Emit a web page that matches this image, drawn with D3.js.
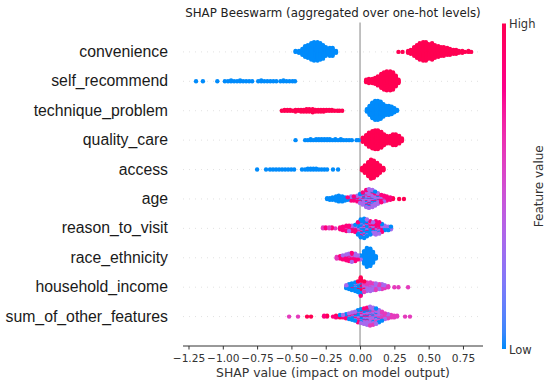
<!DOCTYPE html>
<html>
<head>
<meta charset="utf-8">
<script src="https://cdn.jsdelivr.net/npm/d3@7"></script>
<style>
  html, body { margin: 0; padding: 0; background: #fff; }
  svg { display: block; }
</style>
</head>
<body>
<svg id="chart" width="550" height="386"></svg>
<script>
// ---------------- DATA ----------------
const titleText = "SHAP Beeswarm (aggregated over one-hot levels)";
const xLabelText = "SHAP value (impact on model output)";
const features = ["convenience", "self_recommend", "technique_problem", "quality_care", "access",
  "age", "reason_to_visit", "race_ethnicity", "household_income", "sum_of_other_features"];
const xTicks = [-1.25, -1.00, -0.75, -0.50, -0.25, 0.00, 0.25, 0.50, 0.75];

// feature-value levels (0 = Low, 1 = High)
const B = 0, P = 0.33, M = 0.6, K = 0.85, R = 1;

// each entry: [SHAP value, number of samples, feature value]
const convenience = [
  [-0.47,2,B],[-0.445,3,B],[-0.42,7,B],[-0.40,12,B],[-0.38,14,B],[-0.355,18,B],[-0.335,20,B],[-0.31,20,B],
  [-0.29,18,B],[-0.27,15,B],[-0.25,10,B],[-0.235,6,B],[-0.22,9,B],[-0.20,9,B],[-0.175,3,B],
  [0.28,1,R],[0.31,1,R],[0.35,3,R],[0.37,5,R],[0.395,10,R],[0.415,14,R],[0.435,18,R],[0.46,20,R],[0.48,20,R],
  [0.50,16,R],[0.525,18,R],[0.545,14,R],[0.57,12,R],[0.59,10,R],[0.61,10,R],[0.635,8,R],[0.655,7,R],[0.68,5,R],
  [0.70,5,R],[0.72,3,R],[0.745,3,R],[0.765,1,R],[0.79,2,R],[0.81,1,R]
];
const self_recommend = [
  [-1.195,1,B],[-1.145,1,B],[-1.04,1,B],
  [-0.985,1,B],[-0.962,1,B],[-0.94,2,B],[-0.918,1,B],[-0.896,1,B],[-0.874,2,B],[-0.852,1,B],[-0.83,1,B],[-0.808,1,B],[-0.786,1,B],
  [-0.742,1,B],[-0.72,2,B],[-0.698,1,B],[-0.676,1,B],[-0.654,1,B],[-0.632,1,B],[-0.61,1,B],
  [-0.58,1,B],[-0.558,2,B],[-0.536,1,B],[-0.514,1,B],[-0.492,1,B],[-0.474,1,B],
  [0.045,4,R],[0.065,6,R],[0.09,6,R],[0.11,8,R],[0.13,12,R],[0.155,18,R],[0.175,22,R],[0.195,24,R],
  [0.22,24,R],[0.24,22,R],[0.26,14,R],[0.28,5,R]
];
const technique_problem = [
  [-0.57,1,R],[-0.55,2,R],[-0.53,2,R],[-0.51,2,R],[-0.49,1,R],[-0.47,3,R],[-0.45,2,R],[-0.43,3,R],[-0.41,3,R],
  [-0.39,4,R],[-0.37,4,R],[-0.345,5,R],[-0.325,3,R],[-0.305,3,R],[-0.285,3,R],[-0.265,3,R],[-0.245,2,R],
  [-0.225,2,R],[-0.205,2,R],[-0.185,1,R],[-0.165,1,R],[-0.15,1,R],[-0.13,1,R],
  [0.05,4,B],[0.07,12,B],[0.09,20,B],[0.11,24,B],[0.13,24,B],[0.15,22,B],[0.17,16,B],[0.19,12,B],[0.21,12,B],
  [0.23,10,B],[0.25,6,B],[0.27,2,B]
];
const quality_care = [
  [-0.47,1,B],[-0.40,1,B],[-0.38,1,B],[-0.36,2,B],[-0.34,1,B],[-0.32,2,B],[-0.30,2,B],[-0.28,2,B],[-0.26,2,B],
  [-0.24,2,B],[-0.22,2,B],[-0.20,1,B],[-0.18,2,B],[-0.16,1,B],[-0.14,2,B],[-0.12,1,B],[-0.10,1,B],[-0.08,1,B],
  [-0.06,1,B],[-0.025,1,B],[-0.01,1,B],
  [0.02,6,R],[0.045,12,R],[0.065,18,R],[0.09,22,R],[0.11,24,R],[0.13,24,R],[0.155,20,R],[0.175,14,R],
  [0.195,10,R],[0.22,10,R],[0.24,14,R],[0.26,14,R],[0.285,10,R],[0.305,4,R]
];
const access = [
  [-0.75,1,B],[-0.685,1,B],[-0.656,1,B],[-0.634,1,B],[-0.612,1,B],[-0.59,1,B],[-0.568,1,B],[-0.546,1,B],
  [-0.524,1,B],[-0.502,1,B],[-0.48,1,B],
  [-0.423,1,B],[-0.40,1,B],[-0.38,2,B],[-0.36,2,B],[-0.34,2,B],[-0.32,2,B],[-0.30,1,B],[-0.28,1,B],
  [-0.26,1,B],[-0.24,1,B],[-0.197,1,B],[-0.16,1,B],
  [0.015,4,R],[0.035,10,R],[0.06,18,R],[0.08,24,R],[0.10,22,R],[0.125,16,R],[0.145,10,R],[0.17,4,R]
];
const age = [
  [-0.24,2,B],[-0.22,3,B],[-0.20,4,B],[-0.175,6,B],[-0.155,8,B],[-0.13,7,B],[-0.11,4,B],[-0.11,1,K],
  [-0.09,3,K],[-0.09,1,B],[-0.065,4,K],[-0.065,2,P],[-0.045,4,K],[-0.045,2,B],[-0.02,4,K],[-0.02,3,P],[-0.02,1,B],
  [0,7,P],[0,3,K],[0,2,B],[0.02,10,P],[0.02,3,K],[0.02,3,B],[0.045,14,P],[0.045,4,K],[0.045,4,B],
  [0.065,16,P],[0.065,4,K],[0.065,4,B],[0.09,14,P],[0.09,4,K],[0.09,4,B],[0.11,11,P],[0.11,4,K],[0.11,3,B],
  [0.13,8,P],[0.13,4,K],[0.13,2,B],[0.155,6,K],[0.155,4,P],[0.175,6,K],[0.175,2,P],[0.195,5,K],[0.195,1,R],
  [0.22,3,K],[0.22,1,R],[0.24,2,R],[0.285,1,R],[0.32,1,R]
];
const reason_to_visit = [
  [-0.27,2,M],[-0.25,2,K],[-0.225,2,M],[-0.205,2,K],[-0.18,1,M],[-0.145,3,K],[-0.125,4,K],[-0.125,1,P],
  [-0.10,5,K],[-0.10,2,M],[-0.08,5,K],[-0.08,2,P],[-0.06,4,K],[-0.06,2,P],[-0.06,1,B],
  [-0.035,4,K],[-0.035,3,P],[-0.035,2,B],[-0.015,8,B],[-0.015,4,P],[-0.015,3,K],
  [0.005,12,B],[0.005,6,P],[0.005,3,K],[0.03,14,B],[0.03,6,P],[0.03,3,K],[0.05,12,B],[0.05,5,P],[0.05,3,K],
  [0.075,8,B],[0.075,4,P],[0.075,4,K],[0.095,6,K],[0.095,6,P],[0.095,2,B],[0.115,8,K],[0.115,6,P],[0.115,2,B],
  [0.14,7,K],[0.14,5,P],[0.14,2,B],[0.16,5,K],[0.16,4,P],[0.16,1,B],[0.18,3,P],[0.18,3,B],
  [0.205,3,B],[0.205,2,P],[0.225,2,B],[0.225,2,P]
];
const race_ethnicity = [
  [-0.17,3,M],[-0.145,4,K],[-0.125,5,K],[-0.125,1,P],[-0.10,6,K],[-0.10,2,P],[-0.08,7,K],[-0.08,3,P],
  [-0.06,8,K],[-0.06,3,P],[-0.06,1,M],[-0.035,6,K],[-0.035,4,P],[-0.015,4,P],[-0.015,2,K],
  [0.005,2,P],[0.005,4,B],[0.03,16,B],[0.05,24,B],[0.075,22,B],[0.095,14,B],[0.115,4,B]
];
const household_income = [
  [-0.10,2,B],[-0.10,2,P],[-0.08,5,B],[-0.08,1,P],[-0.06,6,B],[-0.06,2,K],[-0.035,8,B],[-0.035,2,P],
  [-0.015,8,B],[-0.015,2,R],[-0.015,2,P],[0.005,10,R],[0.005,6,B],[0.005,4,K],
  [0.03,6,M],[0.03,4,P],[0.03,2,R],[0.05,6,P],[0.05,4,M],[0.075,6,P],[0.075,4,M],[0.095,6,P],[0.095,2,M],
  [0.115,5,P],[0.115,3,M],[0.14,4,P],[0.14,2,M],[0.16,4,P],[0.16,2,M],[0.18,3,P],[0.18,1,M],
  [0.205,2,M],[0.25,1,M],[0.28,1,M],[0.35,1,M]
];
const sum_of_other_features = [
  [-0.517,1,M],[-0.452,1,M],[-0.386,1,R],[-0.357,1,R],[-0.262,2,K],[-0.24,1,R],[-0.24,1,K],[-0.197,1,K],
  [-0.175,2,R],[-0.175,1,K],[-0.146,2,B],[-0.146,1,R],[-0.146,1,K],[-0.124,2,K],[-0.124,1,P],[-0.124,1,B],
  [-0.102,3,B],[-0.102,2,K],[-0.102,1,P],[-0.08,3,P],[-0.08,3,B],[-0.08,2,K],
  [-0.058,4,B],[-0.058,3,P],[-0.058,3,K],[-0.036,5,B],[-0.036,4,P],[-0.036,3,K],
  [-0.015,6,B],[-0.015,6,P],[-0.015,4,K],[0.007,6,B],[0.007,8,P],[0.007,4,K],
  [0.029,10,P],[0.029,6,B],[0.029,4,K],[0.051,12,P],[0.051,5,B],[0.051,5,K],
  [0.073,14,P],[0.073,6,M],[0.073,4,B],[0.095,12,P],[0.095,6,M],[0.095,4,B],
  [0.117,12,P],[0.117,5,M],[0.117,3,B],[0.138,10,P],[0.138,4,M],[0.138,2,B],
  [0.16,8,M],[0.16,3,P],[0.16,1,B],[0.182,6,M],[0.182,2,P],[0.204,4,M],[0.204,2,P],
  [0.226,3,M],[0.226,1,P],[0.248,3,M],[0.27,2,M],[0.328,1,M],[0.364,1,M]
];
const rowData = [convenience, self_recommend, technique_problem, quality_care, access,
  age, reason_to_visit, race_ethnicity, household_income, sum_of_other_features];

// ---------------- CHART ----------------
const svg = d3.select("#chart");
const W = 550, H = 386;
svg.append("rect").attr("width", W).attr("height", H).attr("fill", "#fff");

const plot = { left: 183, right: 483, top: 22.5, bottom: 346 };
const nRows = features.length;

const x = d3.scaleLinear().domain([-1.29, 0.896]).range([plot.left, plot.right]);
const y = d3.scaleLinear().domain([-1, nRows]).range([plot.bottom, plot.top]);

const cLow = d3.rgb("#008bfb"), cHigh = d3.rgb("#ff0052");
const colorInterp = d3.interpolateHcl(cLow, cHigh);
const color = d3.scaleSequential(colorInterp).domain([0, 1]);

// gridlines
features.forEach((f, i) => {
  const pos = nRows - 1 - i;
  svg.append("line")
    .attr("x1", plot.left).attr("x2", plot.right)
    .attr("y1", y(pos)).attr("y2", y(pos))
    .attr("stroke", "#cccccc").attr("stroke-width", 0.6)
    .attr("stroke-dasharray", "1,5");
});

// zero line
svg.append("line")
  .attr("x1", x(0)).attr("x2", x(0))
  .attr("y1", plot.top).attr("y2", plot.bottom)
  .attr("stroke", "#999999").attr("stroke-width", 1.2);

// beeswarm layout (SHAP style binning)
const frac = v => v - Math.floor(v);
const rowHeight = 0.4;
features.forEach((f, i) => {
  const pos = nRows - 1 - i;
  const pts = [];
  rowData[i].forEach(([v, n, fv]) => {
    for (let k = 0; k < n; k++) pts.push({ v, fv });
  });
  pts.forEach((p, j) => { p.key = frac((j + 1) * 0.6180339887 + i * 0.137); });
  const mn = d3.min(pts, p => p.v), mx = d3.max(pts, p => p.v);
  pts.forEach(p => { p.q = Math.round(100 * (p.v - mn) / (mx - mn + 1e-8)); });
  const sorted = pts.slice().sort((a, b) => a.q - b.q || a.key - b.key);
  let layer = 0, last = -1;
  sorted.forEach(p => {
    if (p.q !== last) layer = 0;
    p.ys = Math.ceil(layer / 2) * ((layer % 2) * 2 - 1);
    layer++;
    last = p.q;
  });
  const m = d3.max(pts, p => p.ys + 1);
  pts.forEach(p => { p.dy = p.ys * 0.9 * (rowHeight / m); });
  const drawOrder = pts.slice().sort((a, b) => a.key - b.key);
  svg.append("g").selectAll("circle").data(drawOrder).join("circle")
    .attr("cx", d => x(d.v))
    .attr("cy", d => y(pos + d.dy))
    .attr("r", 2.2)
    .attr("fill", d => color(d.fv));
});

// feature labels
features.forEach((f, i) => {
  const pos = nRows - 1 - i;
  svg.append("text")
    .attr("x", 168).attr("y", y(pos) + 5)
    .attr("text-anchor", "end")
    .attr("font-family", "'Liberation Sans', Arial, sans-serif")
    .attr("font-size", 15.8)
    .attr("fill", "#1a1a1a")
    .text(f);
});

// x axis
const xAxis = d3.axisBottom(x).tickValues(xTicks).tickFormat(d3.format(".2f")).tickSize(3.5).tickSizeOuter(0);
const gx = svg.append("g").attr("transform", `translate(0,${plot.bottom})`).call(xAxis);
gx.select(".domain").attr("stroke", "#333").attr("stroke-width", 1).attr("d", `M${plot.left},0H${plot.right}`);
gx.selectAll(".tick line").attr("stroke", "#333");
gx.selectAll(".tick text")
  .attr("font-family", "'DejaVu Sans', sans-serif")
  .attr("font-size", 10.6)
  .attr("fill", "#333")
  .attr("dy", null).attr("y", 16);

svg.append("text")
  .attr("x", (plot.left + plot.right) / 2).attr("y", 377)
  .attr("text-anchor", "middle")
  .attr("font-family", "'DejaVu Sans', sans-serif")
  .attr("font-size", 12.4)
  .attr("fill", "#333")
  .text(xLabelText);

// title
svg.append("text")
  .attr("x", (plot.left + plot.right) / 2).attr("y", 17)
  .attr("text-anchor", "middle")
  .attr("font-family", "'DejaVu Sans', sans-serif")
  .attr("font-size", 11.8)
  .attr("fill", "#222")
  .text(titleText);

// colorbar
const defs = svg.append("defs");
const grad = defs.append("linearGradient").attr("id", "cbar")
  .attr("x1", 0).attr("y1", 1).attr("x2", 0).attr("y2", 0);
d3.range(0, 1.0001, 0.05).forEach(t => {
  grad.append("stop").attr("offset", t).attr("stop-color", color(t));
});
const cb = { x: 502, w: 4, top: 23.5, bottom: 349 };
svg.append("rect").attr("x", cb.x).attr("y", cb.top).attr("width", cb.w)
  .attr("height", cb.bottom - cb.top).attr("fill", "url(#cbar)");
svg.append("text").attr("x", 509).attr("y", cb.top + 4.5)
  .attr("font-family", "'DejaVu Sans', sans-serif").attr("font-size", 11.5).attr("fill", "#333")
  .text("High");
svg.append("text").attr("x", 509).attr("y", cb.bottom + 4.5)
  .attr("font-family", "'DejaVu Sans', sans-serif").attr("font-size", 11.5).attr("fill", "#333")
  .text("Low");
svg.append("text")
  .attr("transform", `translate(543,${(cb.top + cb.bottom) / 2}) rotate(-90)`)
  .attr("text-anchor", "middle")
  .attr("font-family", "'DejaVu Sans', sans-serif").attr("font-size", 12).attr("fill", "#333")
  .text("Feature value");
</script>
</body>
</html>
